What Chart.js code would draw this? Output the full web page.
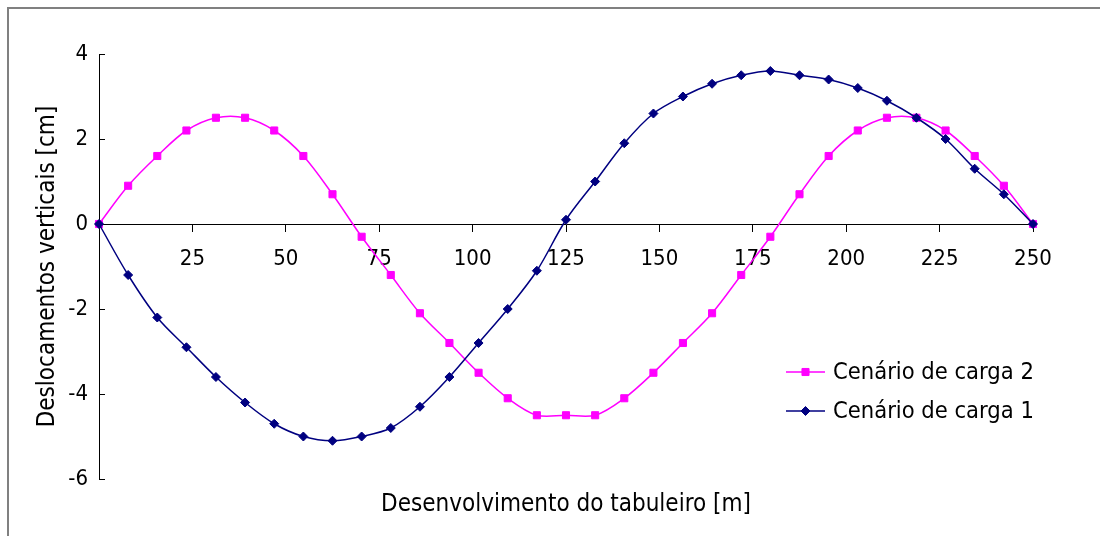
<!DOCTYPE html>
<html>
<head>
<meta charset="utf-8">
<title>Deslocamentos verticais</title>
<script src="https://cdn.jsdelivr.net/npm/chart.js@4.4.1/dist/chart.umd.min.js"></script>
<style>
  html, body { margin: 0; padding: 0; background: #ffffff; }
  #wrap { position: relative; width: 1100px; height: 536px; }
  canvas { display: block; }
</style>
</head>
<body>
<div id="wrap"><canvas id="chart" width="1100" height="536"></canvas></div>
<script>
// Stations along the deck [m]
const estacoes = [0, 7.8, 15.6, 23.4, 31.3, 39.1, 46.9, 54.7, 62.5, 70.3, 78.1, 85.9, 93.8,
  101.6, 109.4, 117.2, 125, 132.8, 140.6, 148.4, 156.3, 164.1, 171.9, 179.7, 187.5,
  195.3, 203.1, 210.9, 218.8, 226.6, 234.4, 242.2, 250];

// Vertical displacements [cm]
const carga2 = [0, 0.9, 1.6, 2.2, 2.5, 2.5, 2.2, 1.6, 0.7, -0.3, -1.2, -2.1, -2.8,
  -3.5, -4.1, -4.5, -4.5, -4.5, -4.1, -3.5, -2.8, -2.1, -1.2, -0.3, 0.7,
  1.6, 2.2, 2.5, 2.5, 2.2, 1.6, 0.9, 0];
const carga1 = [0, -1.2, -2.2, -2.9, -3.6, -4.2, -4.7, -5.0, -5.1, -5.0, -4.8, -4.3, -3.6,
  -2.8, -2.0, -1.1, 0.1, 1.0, 1.9, 2.6, 3.0, 3.3, 3.5, 3.6, 3.5,
  3.4, 3.2, 2.9, 2.5, 2.0, 1.3, 0.7, 0];

const seriesNames = ['Cenário de carga 2', 'Cenário de carga 1'];
const xTicks = [25, 50, 75, 100, 125, 150, 175, 200, 225, 250];
const yTicks = [-6, -4, -2, 0, 2, 4];
const xTitle = 'Desenvolvimento do tabuleiro [m]';
const yTitle = 'Deslocamentos verticais [cm]';

const FONT = '"DejaVu Sans Condensed", "Liberation Sans", sans-serif';
const PINK = '#ff00ff';
const NAVY = '#000080';

const toPoints = (xs, ys) => xs.map((x, i) => ({ x: x, y: ys[i] }));

// Light grey frame around the figure
const framePlugin = {
  id: 'frame',
  beforeDraw(chart) {
    const ctx = chart.ctx;
    ctx.save();
    ctx.fillStyle = '#ffffff';
    ctx.fillRect(0, 0, chart.width, chart.height);
    ctx.strokeStyle = '#808080';
    ctx.lineWidth = 2;
    ctx.beginPath();
    ctx.moveTo(8, chart.height);
    ctx.lineTo(8, 8);
    ctx.lineTo(chart.width, 8);
    ctx.stroke();
    ctx.restore();
  }
};

// Legend with a line sample and marker for each series
const sideLegend = {
  id: 'sideLegend',
  afterDatasetsDraw(chart) {
    const ctx = chart.ctx;
    const x0 = 786, lineLen = 39, textX = 833, y0 = 372, gap = 39;
    ctx.save();
    chart.data.datasets.forEach((ds, i) => {
      const y = y0 + i * gap;
      ctx.strokeStyle = ds.borderColor;
      ctx.lineWidth = ds.borderWidth;
      ctx.beginPath();
      ctx.moveTo(x0, y);
      ctx.lineTo(x0 + lineLen, y);
      ctx.stroke();
      ctx.fillStyle = ds.pointBackgroundColor;
      ctx.strokeStyle = ds.pointBorderColor;
      ctx.lineWidth = ds.pointBorderWidth;
      Chart.helpers.drawPoint(ctx, {
        pointStyle: ds.pointStyle, radius: ds.pointRadius, borderWidth: ds.pointBorderWidth, rotation: 0
      }, x0 + lineLen / 2, y);
      ctx.fillStyle = '#000000';
      ctx.font = '23.5px ' + FONT;
      ctx.textAlign = 'left';
      ctx.textBaseline = 'middle';
      ctx.fillText(ds.label, textX, y + 1);
    });
    ctx.restore();
  }
};

new Chart(document.getElementById('chart'), {
  type: 'line',
  data: {
    datasets: [
      {
        label: seriesNames[0],
        data: toPoints(estacoes, carga2),
        xAxisID: 'x', yAxisID: 'y',
        borderColor: PINK, backgroundColor: PINK,
        borderWidth: 1.5,
        pointStyle: 'rect', pointRadius: 5, pointBorderWidth: 1,
        pointBackgroundColor: PINK, pointBorderColor: PINK,
        tension: 0.33, fill: false, clip: false, order: 1
      },
      {
        label: seriesNames[1],
        data: toPoints(estacoes, carga1),
        xAxisID: 'x', yAxisID: 'y',
        borderColor: NAVY, backgroundColor: NAVY,
        borderWidth: 1.5,
        pointStyle: 'rectRot', pointRadius: 4.5, pointBorderWidth: 1,
        pointBackgroundColor: NAVY, pointBorderColor: NAVY,
        tension: 0.33, fill: false, clip: false, order: 0
      }
    ]
  },
  options: {
    responsive: false,
    animation: false,
    devicePixelRatio: 1,
    layout: { padding: { left: 0, top: 54, right: 67, bottom: 0 } },
    plugins: {
      legend: { display: false },
      tooltip: { enabled: false }
    },
    scales: {
      x: {
        type: 'linear',
        position: { y: 0 },
        min: 0, max: 250,
        afterBuildTicks: (s) => { s.ticks = [0].concat(xTicks).map(v => ({ value: v })); },
        ticks: {
          color: '#000000', padding: 15, maxRotation: 0, autoSkip: false,
          font: { family: FONT, size: 22 },
          callback: (v) => (v === 0 ? '' : String(v))
        },
        grid: { drawOnChartArea: false, drawTicks: true, tickLength: 7, color: '#000000', lineWidth: 1 },
        border: { display: true, color: '#000000', width: 1 }
      },
      xLabel: {
        type: 'linear', axis: 'x', position: 'bottom',
        min: 0, max: 250,
        ticks: { display: false },
        grid: { display: false, drawTicks: false },
        border: { display: false },
        title: {
          display: true, text: xTitle, color: '#000000',
          font: { family: FONT, size: 24 },
          padding: { top: 11.6, bottom: 16.6 }
        }
      },
      y: {
        type: 'linear', position: 'left',
        min: -6, max: 4,
        afterBuildTicks: (s) => { s.ticks = yTicks.map(v => ({ value: v })); },
        afterFit: (s) => { s.width = 99; },
        ticks: {
          color: '#000000', padding: 17,
          font: { family: FONT, size: 22 },
          callback: (v) => String(v)
        },
        grid: { drawOnChartArea: false, drawTicks: true, tickLength: -6, color: '#000000', lineWidth: 1 },
        border: { display: true, color: '#000000', width: 1 },
        title: {
          display: true, text: yTitle, color: '#000000',
          font: { family: FONT, size: 24 },
          padding: { top: 33.6, bottom: 0 }
        }
      }
    }
  },
  plugins: [framePlugin, sideLegend]
});
</script>
</body>
</html>
